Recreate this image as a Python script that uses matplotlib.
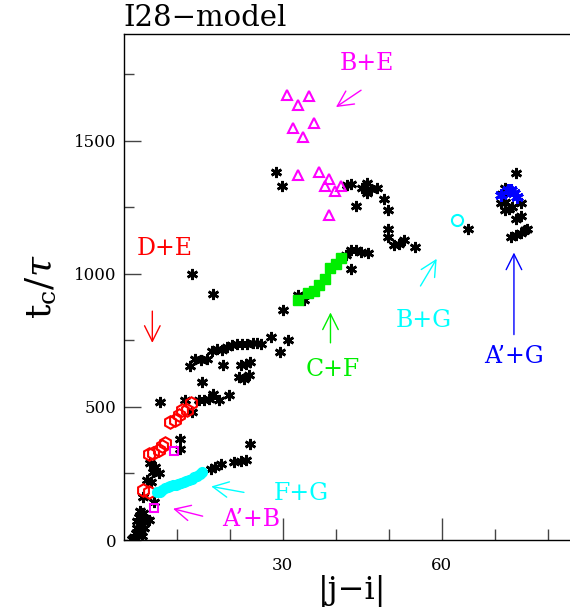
import matplotlib
matplotlib.use("Agg")
import matplotlib.pyplot as plt
from matplotlib.ticker import MultipleLocator, FixedLocator

plt.rcParams["font.family"] = ["DejaVu Serif"]
plt.rcParams["mathtext.fontset"] = "dejavuserif"

# --- data: (|j-i|, t_c/tau) ---
black_x = [1.5, 2.0, 2.3, 2.6, 2.8, 3.0, 3.2, 3.5, 3.4, 3.7, 3.9, 4.3, 4.7, 3.0, 2.5,
           3.6, 4.4, 4.9, 5.1, 5.6, 5.9, 6.6, 5.7,
           10.7, 10.7,
           6.8, 11.6, 12.9, 14.2, 15.1, 16.1, 16.9, 18.0, 19.8, 14.8,
           12.6, 13.5, 14.5, 15.7, 16.7, 17.6, 18.6, 18.8, 19.5, 20.5, 21.4, 22.1, 23.0, 23.8,
           21.7, 22.7, 23.6, 22.4, 23.3, 24.3, 25.2, 25.9, 27.8, 29.5, 30.0, 30.9,
           16.4, 17.3, 18.3, 20.8, 22.1, 23.0, 23.8,
           12.8, 16.9,
           32.8, 34.0,
           42.0, 42.8, 43.8, 44.8, 46.0, 42.8,
           28.8, 29.9, 42.1, 42.9, 43.9, 44.9, 45.9, 45.9, 46.7, 47.7, 49.0, 49.9, 49.9, 49.9,
           51.0, 52.0, 52.9, 55.0,
           65.0,
           73.9, 72.0, 71.1, 72.0, 72.7, 72.0, 73.3, 74.9, 73.9, 74.9, 73.0, 73.9, 74.9, 75.7,
           76.1, 71.4]
black_y = [5, 12, 25, 45, 85, 60, 30, 15, 70, 100, 45, 80, 75, 110, 70,
           160, 225, 290, 219, 256, 275, 250, 144,
           381, 340,
           519, 525, 481, 525, 527, 531, 548, 527, 544, 594,
           652, 681, 675, 678, 710, 719, 712, 656, 725, 731, 735, 656, 662, 669,
           612, 606, 619, 735, 737, 740, 740, 737, 762, 706, 865, 753,
           265, 275, 285, 294, 297, 302, 360,
           998, 925,
           919, 903,
           1069, 1090, 1088, 1081, 1079, 1019,
           1381, 1328, 1335, 1337, 1256, 1321, 1340, 1302, 1319, 1321, 1281, 1238, 1169, 1138,
           1108, 1110, 1125, 1100,
           1169,
           1379, 1323, 1265, 1269, 1244, 1240, 1250, 1265, 1206, 1215, 1138, 1144, 1153, 1163,
           1169, 1300]

de_x = [3.7, 4.8, 4.7, 5.6, 6.6, 7.2, 7.7, 8.7, 9.6, 10.5, 11.0, 12.0, 12.7]
de_y = [188, 180, 322, 328, 338, 352, 365, 444, 452, 470, 487, 490, 515]

fg_x = [6.3, 6.8, 7.3, 7.8, 8.3, 8.8, 9.3, 9.8, 10.3, 10.8, 11.3, 11.8, 12.3, 12.8,
        13.3, 13.8, 14.3, 14.8]
fg_y = [180, 182, 188, 195, 198, 202, 205, 208, 210, 214, 217, 222, 226, 230,
        236, 240, 248, 256]

apb_x = [5.7, 9.5]
apb_y = [122, 335]

cf_x = [32.8, 34.7, 35.9, 36.8, 37.9, 39.0, 40.1, 40.9]
cf_y = [903, 927, 935, 956, 979, 1021, 1035, 1060]

be_x = [30.8, 34.9, 32.8, 31.9, 35.9, 33.8, 32.8, 36.9, 38.8, 37.9, 40.9, 39.9, 38.8]
be_y = [1672, 1669, 1635, 1548, 1565, 1512, 1371, 1381, 1356, 1328, 1328, 1312, 1219]

bg_x = [62.9]
bg_y = [1200]

apg_x = [71.1, 72.4, 73.0, 73.6, 74.2]
apg_y = [1294, 1313, 1315, 1302, 1287]

# labels: (text, colour, text pos, arrow tail, arrow head)
labels = [
    ("B+E", "#ff00ff", (45.8, 1790), (45.2, 1695), (39.6, 1620)),
    ("D+E", "#ff0000", (7.8, 1095), (5.4, 870), (5.4, 730)),
    ("C+F", "#00ee00", (39.5, 640), (39.0, 730), (39.0, 865)),
    ("B+G", "#00ffff", (56.5, 825), (55.7, 945), (59.3, 1065)),
    ("A\u2019+G", "#0000ff", (73.7, 690), (73.6, 761), (73.6, 1090)),
    ("F+G", "#00ffff", (33.5, 175), (23.2, 177), (16.0, 203)),
    ("A\u2019+B", "#ff00ff", (24.0, 78), (15.4, 87), (8.8, 120)),
]

fig = plt.figure(figsize=(5.7, 6.14), dpi=100)
ax = fig.add_axes([0.217, 0.1205, 0.80, 0.824])

star = (6, 2, 0)
ax.plot(black_x, black_y, ls="none", marker=star, ms=8, mew=1.9, color="black", zorder=3)
ax.plot(de_x, de_y, ls="none", marker="h", ms=9, mew=1.5, mfc="none", mec="#ff0000", zorder=4)
ax.plot(fg_x, fg_y, ls="none", marker="o", ms=7, color="#00ffff", zorder=4)
ax.plot(apb_x, apb_y, ls="none", marker="s", ms=6, mew=1.5, mfc="none", mec="#ff00ff", zorder=4)
ax.plot(cf_x, cf_y, ls="none", marker="s", ms=7, color="#00ee00", zorder=4)
ax.plot(be_x, be_y, ls="none", marker="^", ms=7, mew=1.5, mfc="none", mec="#ff00ff", zorder=4)
ax.plot(bg_x, bg_y, ls="none", marker="o", ms=8, mew=1.5, mfc="none", mec="#00ffff", zorder=4)
ax.plot(apg_x, apg_y, ls="none", marker=star, ms=9, mew=2.2, color="#0000ff", zorder=4)

for txt, col, tpos, tail, head in labels:
    ax.text(tpos[0], tpos[1], txt, color=col, fontsize=17, ha="center", va="center")
    ax.annotate("", xy=head, xytext=tail,
                arrowprops=dict(arrowstyle="->", color=col, lw=1.0, mutation_scale=28))

ax.set_xlim(0, 86)
ax.set_ylim(0, 1900)
ax.xaxis.set_major_locator(FixedLocator([30, 60]))
ax.xaxis.set_minor_locator(FixedLocator([10, 20, 40, 50, 70, 80]))
ax.yaxis.set_major_locator(MultipleLocator(500))
ax.yaxis.set_minor_locator(MultipleLocator(250))
ax.tick_params(which="both", direction="in", labelsize=12, width=1, color="#444444")
ax.tick_params(axis="x", which="major", length=16, pad=12)
ax.tick_params(axis="x", which="minor", length=8)
ax.tick_params(axis="y", which="major", length=12, pad=5)
ax.tick_params(axis="y", which="minor", length=7)
ax.spines["right"].set_visible(False)
for s in ("left", "top", "bottom"):
    ax.spines[s].set_linewidth(1.0)

ax.text(0, 1.004, "I28\u2212model", transform=ax.transAxes, fontsize=21,
        ha="left", va="bottom")
ax.set_ylabel(r"$\mathrm{t_c}/\tau$", fontsize=26, labelpad=12)
ax.set_xlabel("|j\u2212i|", fontsize=23, labelpad=1)

fig.savefig("out.png", dpi=100, facecolor="white")
